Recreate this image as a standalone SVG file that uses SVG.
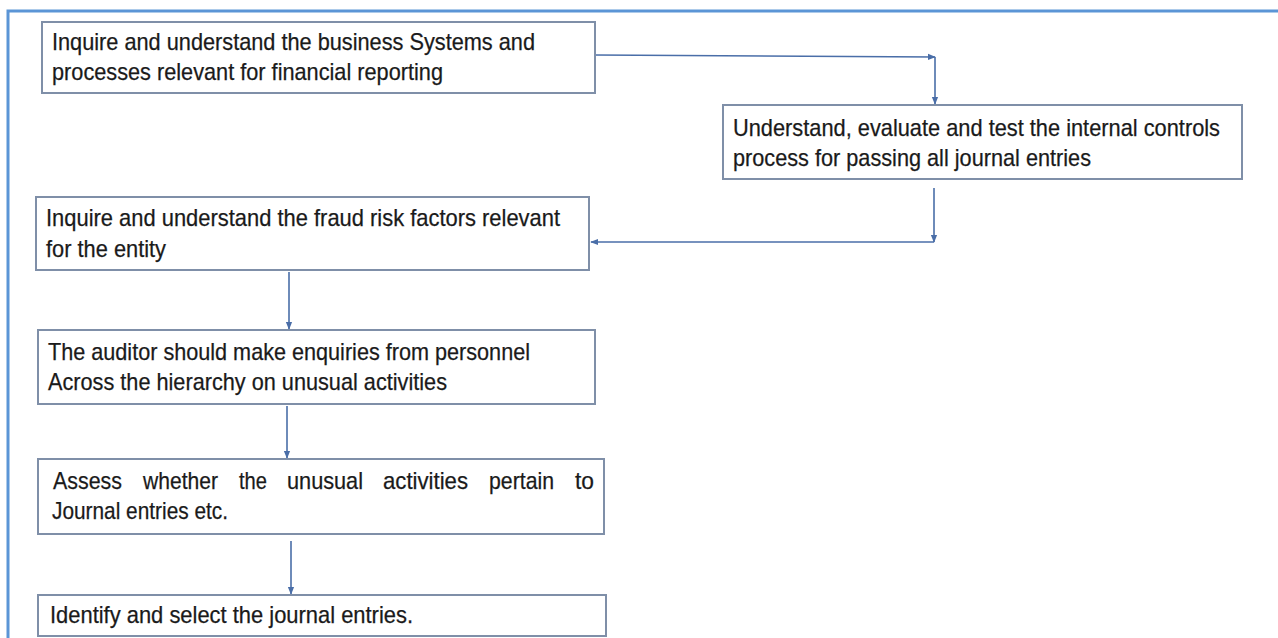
<svg xmlns="http://www.w3.org/2000/svg" width="1278" height="638" viewBox="0 0 1278 638">
<defs>
<style>
.box{fill:#ffffff;stroke:#7f8fa8;stroke-width:2}
.t{font-family:"Liberation Sans",Arial,sans-serif;font-size:24px;fill:#1a1a1a;stroke:#1a1a1a;stroke-width:0.25}
.c{fill:none;stroke:#4a6ea8;stroke-width:1.6}
.frame{stroke:#5b95d6;stroke-width:3;fill:none}
</style>
<marker id="ah" viewBox="0 0 10 10" refX="9" refY="5" markerWidth="8" markerHeight="8" orient="auto" markerUnits="userSpaceOnUse">
<path d="M0,1 L10,5 L0,9 z" fill="#4a6ea8"/>
</marker>
</defs>
<rect width="1278" height="638" fill="#ffffff"/>
<path class="frame" d="M8,638 V11 H1278"/>
<g id="connectors">
<path class="c" d="M595,55 L935,57" marker-end="url(#ah)"/>
<path class="c" d="M935,57 V104" marker-end="url(#ah)"/>
<path class="c" d="M934,188 V242" marker-end="url(#ah)"/>
<path class="c" d="M934,242 H591" marker-end="url(#ah)"/>
<path class="c" d="M289,272 V329" marker-end="url(#ah)"/>
<path class="c" d="M287,406 V458" marker-end="url(#ah)"/>
<path class="c" d="M291,541 V594" marker-end="url(#ah)"/>
</g>
<g id="n1">
<rect class="box" x="42" y="22" width="553" height="71"/>
<text class="t" x="52" y="50" textLength="483" lengthAdjust="spacingAndGlyphs">Inquire and understand the business Systems and</text>
<text class="t" x="52" y="80" textLength="391" lengthAdjust="spacingAndGlyphs">processes relevant for financial reporting</text>
</g>
<g id="n2">
<rect class="box" x="723" y="105" width="519" height="74"/>
<text class="t" x="733" y="136" textLength="487" lengthAdjust="spacingAndGlyphs">Understand, evaluate and test the internal controls</text>
<text class="t" x="733" y="166" textLength="358" lengthAdjust="spacingAndGlyphs">process for passing all journal entries</text>
</g>
<g id="n3">
<rect class="box" x="36" y="197" width="553" height="73"/>
<text class="t" x="46" y="226" textLength="514" lengthAdjust="spacingAndGlyphs">Inquire and understand the fraud risk factors relevant</text>
<text class="t" x="46" y="257" textLength="120" lengthAdjust="spacingAndGlyphs">for the entity</text>
</g>
<g id="n4">
<rect class="box" x="38" y="330" width="557" height="74"/>
<text class="t" x="48" y="360" textLength="482" lengthAdjust="spacingAndGlyphs">The auditor should make enquiries from personnel</text>
<text class="t" x="48" y="390" textLength="399" lengthAdjust="spacingAndGlyphs">Across the hierarchy on unusual activities</text>
</g>
<g id="n5">
<rect class="box" x="38" y="459" width="566" height="75"/>
<text class="t" y="489"><tspan x="53" textLength="69" lengthAdjust="spacingAndGlyphs">Assess</tspan> <tspan x="143" textLength="75" lengthAdjust="spacingAndGlyphs">whether</tspan> <tspan x="239" textLength="28" lengthAdjust="spacingAndGlyphs">the</tspan> <tspan x="287" textLength="76" lengthAdjust="spacingAndGlyphs">unusual</tspan> <tspan x="383" textLength="85" lengthAdjust="spacingAndGlyphs">activities</tspan> <tspan x="489" textLength="65" lengthAdjust="spacingAndGlyphs">pertain</tspan> <tspan x="575" textLength="19" lengthAdjust="spacingAndGlyphs">to</tspan></text>
<text class="t" x="52" y="519" textLength="176" lengthAdjust="spacingAndGlyphs">Journal entries etc.</text>
</g>
<g id="n6">
<rect class="box" x="38" y="595" width="568" height="41"/>
<text class="t" x="50" y="623" textLength="363" lengthAdjust="spacingAndGlyphs">Identify and select the journal entries.</text>
</g>
</svg>
